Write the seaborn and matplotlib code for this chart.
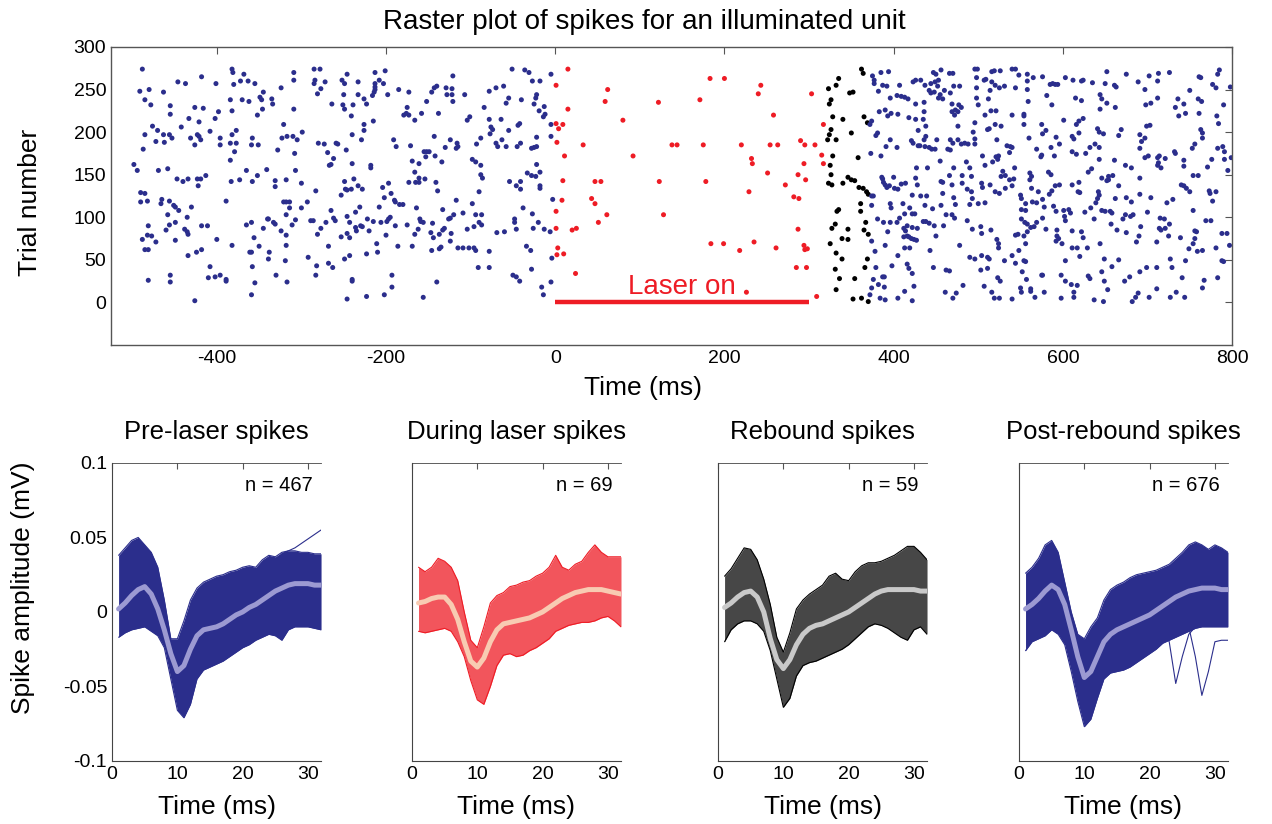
import numpy as np
import pandas as pd
import seaborn as sns
import matplotlib
matplotlib.use("Agg")
import matplotlib.pyplot as plt

# ---- raster data: (time ms, trial) ----
pre_spikes = [
    (-488,274),(-491,248),(-480,250),(-463,247),(-485,238),(-478,232),(-455,231),(-455,221),(-446,259),(-437,257),
    (-418,265),(-426,229),(-416,228),(-433,216),(-421,212),(-442,206),(-476,207),(-470,202),(-485,197),(-487,180),
    (-472,189),(-463,197),(-462,188),(-456,197),(-453,193),(-431,193),(-423,197),(-421,195),(-419,191),(-426,185),
    (-408,201),(-402,216),(-398,224),(-401,257),(-382,274),(-381,270),(-380,256),(-372,260),(-368,268),(-363,260),
    (-355,257),(-384,238),(-382,225),(-370,238),(-362,236),(-345,247),(-349,241),(-347,238),(-335,239),(-334,233),
    (-346,227),(-352,220),(-324,252),(-309,270),(-309,261),(-309,227),(-285,274),(-278,274),(-284,261),(-285,257),
    (-272,259),(-277,251),(-281,245),(-264,233),(-321,209),(-377,202),(-382,197),(-396,193),(-396,185),(-384,187),
    (-377,187),(-379,177),(-384,167),(-358,193),(-359,185),(-351,185),(-328,179),(-323,193),(-317,195),(-310,195),
    (-305,191),(-299,200),(-308,175),(-280,187),(-273,186),(-269,176),(-259,187),(-262,169),(-267,161),(-265,162),
    (-498,162),(-494,155),(-469,155),(-458,157),(-447,145),(-440,142),(-434,145),(-423,145),(-419,145),(-422,137),
    (-413,149),(-383,142),(-373,144),(-365,155),(-358,142),(-352,149),(-341,156),(-331,143),(-331,136),(-318,144),
    (-307,155),(-300,140),(-283,131),(-490,129),(-485,128),(-490,118),(-482,119),(-465,121),(-466,116),(-456,119),
    (-451,114),(-449,112),(-445,108),(-430,112),(-458,103),(-449,94),(-435,100),(-460,85),(-456,91),(-438,86),
    (-435,83),(-434,80),(-481,90),(-488,74),(-482,79),(-477,78),(-485,62),(-481,62),(-472,71),(-449,73),
    (-418,90),(-411,90),(-400,74),(-434,55),(-424,59),(-418,62),(-389,119),(-382,67),(-365,91),(-359,94),
    (-356,76),(-350,66),(-361,59),(-359,59),(-358,42),(-340,98),(-339,98),(-333,94),(-331,92),(-345,87),
    (-338,59),(-339,51),(-324,84),(-318,79),(-321,118),(-318,118),(-314,118),(-314,111),(-318,103),(-311,91),
    (-307,97),(-300,111),(-293,118),(-289,96),(-286,96),(-281,80),(-277,87),(-271,94),(-265,108),(-262,99),
    (-260,96),(-292,53),(-282,43),(-268,66),(-268,46),(-263,41),(-318,67),(-319,49),(-317,24),(-330,32),
    (-355,23),(-359,9),(-426,2),(-408,42),(-410,29),(-402,30),(-396,32),(-389,27),(-389,25),(-455,32),
    (-455,24),(-481,26),(-283,32),
    (-246,268),(-252,261),(-249,257),(-233,259),(-213,270),(-208,261),(-213,257),(-213,253),(-213,250),(-214,247),
    (-216,243),(-201,272),(-203,257),(-198,244),(-250,244),(-233,244),(-226,239),(-223,233),(-251,232),(-249,227),
    (-239,232),(-241,219),(-226,209),(-226,202),(-215,213),(-240,197),(-229,191),(-247,179),(-257,186),(-240,163),
    (-218,161),(-218,158),(-191,191),(-188,183),(-185,250),(-173,247),(-175,229),(-179,220),(-176,222),(-173,220),
    (-166,214),(-158,222),(-152,236),(-146,247),(-143,252),(-140,254),(-138,222),(-143,195),(-129,252),(-122,251),
    (-122,244),(-128,244),(-121,236),(-121,266),(-107,244),(-171,184),(-155,177),(-152,177),(-149,177),(-153,171),
    (-142,172),(-130,182),(-124,191),(-116,187),(-115,183),(-117,181),(-134,165),(-169,166),(-161,163),(-166,153),
    (-161,146),(-173,141),(-165,141),(-161,141),(-154,145),(-141,141),(-139,131),(-104,214),(-101,218),(-84,229),
    (-78,248),(-70,252),(-61,254),(-55,240),(-58,234),(-78,215),(-64,215),(-76,206),(-74,203),(-77,198),
    (-88,193),(-93,186),(-70,187),(-68,183),(-63,191),(-58,183),(-55,202),(-45,183),(-44,208),(-42,210),
    (-41,187),(-51,274),(-36,273),(-31,270),(-27,260),(-18,260),(-22,244),(-23,240),(-40,238),(-25,233),
    (-19,225),(-13,230),(-12,221),(-14,218),(-5,268),(-5,209),(-5,195),(-22,194),(-28,181),(-25,182),
    (-22,183),(-98,168),(-94,165),(-88,161),(-88,150),(-86,146),(-90,130),(-98,116),(-109,105),(-94,103),
    (-87,103),(-90,94),(-87,91),(-96,89),(-104,86),(-54,142),(-46,137),(-41,142),(-41,133),(-33,152),
    (-28,149),(-23,148),(-22,162),(-18,153),(-18,137),(-18,134),(-38,111),(-27,104),(-48,98),(-48,94),
    (-46,86),(-26,87),(-20,94),(-13,86),(-6,83),(-69,82),(-60,83),(-34,66),(-29,61),(-4,52),
    (-28,39),(-50,32),(-46,30),(-42,25),(-5,24),(-16,18),(-14,9),(-78,60),(-78,41),(-91,41),
    (-115,64),(-109,64),(-102,64),(-96,64),(-94,61),(-124,72),(-135,65),(-137,63),(-146,61),(-131,87),
    (-133,85),(-123,81),(-137,80),(-144,76),(-147,82),(-162,86),(-166,80),(-175,91),(-189,90),(-186,66),
    (-169,66),(-164,111),(-160,98),(-159,95),(-156,94),(-145,93),(-133,109),(-124,99),(-120,103),(-117,120),
    (-126,98),(-195,100),(-197,98),(-199,95),(-206,94),(-215,95),(-222,98),(-231,112),(-236,106),(-246,101),
    (-243,94),(-236,88),(-235,84),(-230,90),(-228,89),(-220,84),(-246,81),(-243,76),(-253,77),(-211,69),
    (-210,59),(-223,57),(-243,55),(-249,51),(-200,79),(-208,112),(-190,120),(-189,118),(-184,115),(-180,115),
    (-194,128),(-202,123),(-197,140),(-204,135),(-253,126),(-248,133),(-246,132),(-241,133),(-249,142),(-238,145),
    (-233,137),(-228,133),(-240,27),(-240,25),(-193,32),(-193,18),(-202,9),(-223,7),(-246,4),(-156,6),
    (-140,24),(-3,121),
]

laser_spikes = [
    (15,274),(1,255),(62,250),(59,236),(15,227),(1,210),(4,204),(9,209),(2,188),(33,185),
    (11,172),(80,214),(92,172),(122,235),(138,185),(144,185),(171,238),(183,263),(200,263),(175,185),
    (9,143),(47,142),(54,142),(123,142),(178,142),(8,120),(1,107),(43,122),(47,116),(61,103),
    (51,94),(128,103),(1,87),(20,85),(25,87),(3,64),(2,56),(10,57),(24,34),(184,69),
    (199,69),(218,61),(235,71),(261,64),(229,130),(232,169),(233,163),(251,152),(272,138),(220,185),
    (254,185),(263,185),(243,255),(240,245),(258,220),(303,245),(290,190),(295,185),(307,185),(294,163),
    (287,150),(296,144),(282,124),(288,122),(287,86),(294,67),(295,62),(298,63),(285,41),(297,41),
    (226,12),(309,7),(317,209),(315,173),(317,163),
]

rebound_spikes = [
    (335,263),(332,255),(323,251),(348,246),(352,247),(326,238),(324,233),(362,274),(364,269),(328,218),
    (340,215),(350,199),(326,203),(324,197),(322,191),(332,191),(365,218),(369,211),(328,172),(358,170),
    (325,161),(326,150),(323,140),(327,138),(340,140),(346,147),(350,144),(354,143),(359,135),(364,134),
    (368,130),(370,127),(361,116),(361,107),(335,109),(333,107),(331,92),(327,87),(346,86),(339,75),
    (346,74),(367,94),(365,85),(370,80),(325,69),(332,58),(339,51),(369,51),(331,39),(366,41),
    (336,28),(354,28),(332,15),(352,4),(362,5),(370,1),
]

post_spikes = [
    (385,270),(394,271),(375,266),(377,261),(447,270),(450,268),(456,273),(466,269),(470,269),(496,274),
    (499,274),(516,271),(519,272),(526,272),(540,274),(498,264),(507,261),(509,262),(387,255),(392,254),
    (377,257),(407,255),(423,259),(426,261),(432,261),(437,255),(444,257),(449,259),(453,261),(452,254),
    (442,249),(471,254),(478,254),(460,249),(455,244),(453,240),(458,239),(444,246),(448,247),(467,246),
    (516,259),(520,255),(525,252),(531,254),(514,249),(498,252),(404,243),(409,242),(413,241),(417,239),
    (396,240),(382,248),(426,233),(436,235),(498,240),(500,232),(512,239),(383,224),(390,226),(393,219),
    (397,222),(405,221),(418,217),(426,215),(435,215),(438,207),(429,202),(436,224),(469,233),(477,232),
    (480,229),(476,224),(473,226),(469,224),(472,220),(476,207),(515,225),(521,225),(508,220),(496,211),
    (511,203),(513,204),(520,209),(527,207),(540,220),(494,200),(496,192),(374,213),(372,209),(381,199),
    (379,196),(396,191),(391,183),(404,182),(373,175),(385,172),(421,190),(423,187),(429,184),(431,184),
    (437,183),(442,182),(445,180),(449,180),(436,191),(438,195),(451,191),(464,180),(467,179),(467,191),
    (476,191),(480,186),(470,187),(484,187),(488,186),(496,186),(522,191),(534,184),(538,183),(537,176),
    (505,172),(517,165),(521,171),(524,172),(523,168),(508,161),(529,154),(532,149),(537,144),(527,148),
    (427,158),(440,158),(455,166),(471,158),(486,165),(490,158),(466,149),(481,149),(492,148),(456,142),
    (458,141),(469,138),(481,140),(487,133),(492,130),(504,140),(514,138),(505,135),(520,130),(525,128),
    (532,134),(540,137),(386,147),(387,145),(388,141),(390,138),(392,135),(395,137),(400,147),(401,134),
    (409,139),(414,140),(426,146),(428,138),(405,133),(422,126),(432,125),(439,125),(374,125),(376,125),
    (374,114),(396,116),(397,111),(411,116),(419,111),(437,114),(446,110),(456,114),(458,128),(471,123),
    (473,115),(490,115),(493,122),(500,116),(508,117),(462,103),(469,103),(472,99),(487,96),(493,86),
    (503,89),(504,81),(515,85),(459,90),(448,90),(435,95),(438,95),(442,93),(422,104),(425,104),
    (413,104),(407,99),(404,94),(381,98),(388,94),(396,94),(416,90),(422,88),(428,87),(393,83),
    (412,87),(414,84),(416,78),(418,77),(421,75),(424,74),(427,73),(412,77),(374,72),(390,67),
    (405,55),(413,64),(419,64),(443,61),(450,78),(478,67),(490,53),(496,51),(504,55),(513,51),
    (511,53),(522,74),(524,69),(524,64),(531,49),(540,55),(378,60),(398,43),(416,45),(418,40),
    (422,34),(447,41),(462,38),(466,37),(482,20),(503,38),(511,40),(523,29),(526,25),(376,27),
    (374,17),(387,30),(389,30),(382,21),(389,18),(384,5),(390,3),(372,9),(405,5),(413,13),
    (424,19),(422,2),(461,12),(470,5),(474,11),(507,19),(516,12),(519,5),(525,5),(540,4),
    (379,41),
    (544,274),(548,267),(558,268),(558,260),(565,264),(576,265),(544,252),(558,250),(559,236),(585,256),
    (588,257),(591,256),(594,256),(581,243),(587,232),(603,264),(612,261),(622,260),(624,261),(635,258),
    (615,240),(622,237),(644,244),(646,239),(652,234),(644,227),(650,257),(652,271),(661,255),(663,253),
    (662,229),(675,268),(689,259),(697,250),(702,266),(713,269),(712,260),(726,270),(698,232),(704,234),
    (712,240),(733,229),(736,239),(743,233),(750,249),(737,219),(745,222),(761,265),(763,264),(760,239),
    (764,236),(761,222),(777,256),(781,252),(783,268),(785,273),(790,232),(782,219),(784,210),(798,253),
    (554,221),(554,219),(554,209),(560,193),(540,182),(575,209),(576,198),(580,202),(569,180),(574,171),
    (575,173),(586,182),(590,172),(592,194),(596,186),(601,214),(611,195),(613,192),(616,209),(619,213),
    (624,216),(619,199),(611,177),(616,174),(627,175),(632,182),(638,186),(643,182),(641,204),(643,200),
    (648,198),(643,168),(630,153),(634,157),(661,167),(669,203),(666,196),(674,161),(681,158),(691,197),
    (693,189),(697,193),(691,181),(699,207),(703,208),(701,172),(697,170),(712,170),(713,164),(712,161),
    (716,158),(714,172),(721,169),(732,177),(733,175),(743,167),(743,160),(753,181),(756,186),(763,203),
    (765,199),(765,193),(771,159),(776,168),(783,181),(789,183),(791,177),(791,168),(799,170),(795,155),
    (543,158),(542,145),(561,152),(563,148),(561,144),(583,153),(586,150),(550,126),(551,122),(563,134),
    (571,130),(556,116),(556,108),(564,118),(569,117),(576,121),(578,112),(584,127),(587,131),(591,137),
    (596,138),(589,113),(592,107),(611,138),(619,141),(620,129),(618,130),(601,108),(607,109),(609,105),
    (602,101),(603,96),(626,106),(633,111),(639,117),(641,122),(642,130),(643,126),(646,108),(650,107),
    (656,107),(658,105),(654,144),(654,148),(652,143),(659,149),(646,146),(662,122),(666,137),(675,123),
    (681,118),(691,127),(691,146),(704,123),(674,103),(680,101),(683,103),(671,98),(657,92),(664,85),
    (675,82),(687,71),(690,78),(692,89),(700,106),(715,99),(720,98),(726,92),(723,117),(730,121),
    (740,138),(743,137),(746,134),(750,130),(754,149),(760,149),(754,108),(773,131),(774,128),(777,119),
    (781,130),(769,96),(775,96),(714,87),(716,85),(721,87),(711,71),(725,78),(739,76),(749,63),
    (754,69),(756,75),(758,83),(756,84),(759,60),(765,61),(781,64),(788,81),(794,81),(797,67),
    (788,49),(790,48),(783,29),(767,26),(765,17),(727,51),(729,41),(741,29),(745,49),(734,12),
    (744,6),(727,6),(711,16),(702,6),(689,11),(686,6),(682,1),(711,41),(699,41),(691,36),
    (673,25),(679,30),(666,50),(658,42),(649,51),(646,36),(649,25),(653,15),(648,1),(637,3),
    (630,31),(632,28),(620,54),(603,49),(610,21),(617,20),(613,12),(613,6),(598,32),(603,25),
    (598,5),(578,12),(567,6),(562,16),(562,13),(550,17),(551,12),(557,27),(552,36),(554,49),
    (556,48),(548,61),(544,46),(575,32),(576,32),(556,69),(644,69),(629,64),(617,64),(624,76),
    (611,64),(611,84),(622,83),(593,85),(593,78),(595,75),(592,72),(599,69),(580,86),(576,99),
    (569,94),(566,89),(562,88),(558,83),(554,78),(547,80),(544,79),(551,98),(555,94),(558,92),
    (551,109),(637,98),
]

laser_window = [0, 300]

# ---- waveform data (mV), samples at 1..32 ms ----
wave_t = list(range(1, 33))

pre_mean = [0.002,0.006,0.011,0.015,0.017,0.012,0.002,-0.012,-0.028,-0.040,-0.036,-0.025,-0.016,-0.012,-0.011,-0.010,
            -0.008,-0.005,-0.002,0.000,0.003,0.005,0.008,0.011,0.014,0.016,0.018,0.019,0.019,0.019,0.018,0.018]
pre_upper = [0.038,0.043,0.048,0.050,0.045,0.040,0.030,0.008,-0.018,-0.018,-0.006,0.008,0.016,0.020,0.022,0.024,
             0.025,0.027,0.028,0.030,0.031,0.030,0.035,0.038,0.037,0.040,0.041,0.041,0.040,0.040,0.039,0.039]
pre_lower = [-0.017,-0.014,-0.012,-0.011,-0.010,-0.013,-0.016,-0.024,-0.045,-0.066,-0.071,-0.062,-0.045,-0.039,-0.037,-0.035,
             -0.033,-0.030,-0.027,-0.024,-0.022,-0.019,-0.017,-0.015,-0.016,-0.019,-0.012,-0.010,-0.010,-0.010,-0.011,-0.012]

laser_mean = [0.006,0.007,0.009,0.010,0.010,0.005,-0.005,-0.020,-0.033,-0.037,-0.031,-0.020,-0.012,-0.008,-0.007,-0.006,
              -0.005,-0.004,-0.002,0.000,0.003,0.006,0.009,0.011,0.013,0.014,0.015,0.015,0.015,0.014,0.013,0.012]
laser_upper = [0.030,0.027,0.030,0.036,0.034,0.030,0.021,0.000,-0.019,-0.024,-0.010,0.006,0.011,0.013,0.017,0.018,
               0.020,0.021,0.024,0.026,0.030,0.038,0.030,0.028,0.032,0.034,0.040,0.045,0.040,0.037,0.037,0.037]
laser_lower = [-0.013,-0.014,-0.013,-0.012,-0.011,-0.013,-0.020,-0.030,-0.046,-0.059,-0.062,-0.050,-0.036,-0.029,-0.028,-0.030,
               -0.029,-0.026,-0.024,-0.021,-0.018,-0.013,-0.011,-0.009,-0.008,-0.007,-0.007,-0.006,-0.004,-0.003,-0.006,-0.010]

rebound_mean = [0.003,0.006,0.010,0.013,0.014,0.010,0.000,-0.018,-0.032,-0.038,-0.032,-0.022,-0.015,-0.011,-0.009,-0.008,
                -0.006,-0.004,-0.002,0.000,0.003,0.006,0.009,0.012,0.014,0.015,0.015,0.015,0.015,0.015,0.014,0.014]
rebound_upper = [0.024,0.029,0.036,0.043,0.042,0.035,0.022,0.005,-0.017,-0.027,-0.014,0.002,0.008,0.012,0.015,0.018,
                 0.024,0.026,0.022,0.021,0.027,0.031,0.033,0.033,0.034,0.036,0.038,0.041,0.044,0.044,0.040,0.035]
rebound_lower = [-0.020,-0.012,-0.008,-0.006,-0.006,-0.008,-0.013,-0.026,-0.045,-0.064,-0.058,-0.043,-0.036,-0.034,-0.033,-0.031,
                 -0.029,-0.027,-0.025,-0.022,-0.018,-0.014,-0.010,-0.008,-0.009,-0.011,-0.014,-0.017,-0.019,-0.012,-0.010,-0.015]

post_mean = [0.002,0.005,0.009,0.014,0.018,0.015,0.005,-0.012,-0.030,-0.044,-0.040,-0.030,-0.020,-0.015,-0.012,-0.010,
             -0.008,-0.006,-0.004,-0.002,0.001,0.004,0.007,0.010,0.012,0.014,0.015,0.016,0.016,0.016,0.015,0.015]
post_upper = [0.026,0.030,0.036,0.045,0.048,0.040,0.020,0.000,-0.015,-0.018,-0.010,-0.004,0.008,0.015,0.018,0.020,
              0.023,0.025,0.026,0.027,0.028,0.030,0.032,0.036,0.040,0.045,0.047,0.045,0.042,0.045,0.043,0.040]
post_lower = [-0.026,-0.020,-0.018,-0.016,-0.012,-0.015,-0.022,-0.040,-0.060,-0.077,-0.072,-0.058,-0.045,-0.041,-0.040,-0.039,
              -0.037,-0.034,-0.031,-0.028,-0.025,-0.021,-0.019,-0.017,-0.015,-0.013,-0.011,-0.010,-0.010,-0.010,-0.010,-0.010]

# single stray traces that stick out of the bundles
pre_stray_t = [26, 27, 28, 29, 30, 31, 32]
pre_stray = [0.039, 0.041, 0.043, 0.046, 0.049, 0.052, 0.055]
post_stray_a_t = [21, 22, 23, 24, 25, 26, 27]
post_stray_a = [-0.008, -0.012, -0.020, -0.048, -0.030, -0.015, -0.010]
post_stray_b_t = [25, 26, 27, 28, 29, 30, 31, 32]
post_stray_b = [-0.006, -0.010, -0.030, -0.056, -0.040, -0.020, -0.019, -0.019]

panel_titles = ["Pre-laser spikes", "During laser spikes", "Rebound spikes", "Post-rebound spikes"]
panel_counts = [467, 69, 59, 676]

# ---- style ----
sns.set_style("white")
plt.rcParams["font.family"] = ["Liberation Sans", "DejaVu Sans"]
plt.rcParams["axes.unicode_minus"] = False
for key in ["text.color", "axes.labelcolor", "xtick.color", "ytick.color"]:
    plt.rcParams[key] = "black"

navy = "#2b2e8c"
red = "#ee1c25"
period_colors = {"pre": navy, "laser": red, "rebound": "black", "post": navy}

fig = plt.figure(figsize=(12.72, 8.24), dpi=100)

# ---- raster ----
ax = fig.add_axes([0.0873, 0.5813, 0.8813, 0.3617])
rows = []
for name, spikes in [("pre", pre_spikes), ("laser", laser_spikes),
                     ("rebound", rebound_spikes), ("post", post_spikes)]:
    for t, tr in spikes:
        rows.append({"time": t, "trial": tr, "period": name})
raster_df = pd.DataFrame(rows)

sns.scatterplot(data=raster_df, x="time", y="trial", hue="period", palette=period_colors,
                s=13, linewidth=0, legend=False, ax=ax)
ax.plot(laser_window, [0, 0], color=red, lw=3.2, solid_capstyle="butt")
ax.text(np.mean(laser_window), 18, "Laser on", color=red, fontsize=20, ha="center", va="center")

ax.set_xlim(-525, 800)
ax.set_ylim(-50, 300)
ax.set_xticks(range(-400, 801, 200))
ax.set_yticks(range(0, 301, 50))
ax.tick_params(direction="in", top=True, right=True, labelsize=14, length=5, color="#555555")
for sp in ax.spines.values():
    sp.set_color("#555555")
    sp.set_linewidth(1.0)
ax.set_xlabel("Time (ms)", fontsize=19)
ax.set_ylabel("Trial number", fontsize=19)
ax.xaxis.set_label_coords(0.4746, -0.105)
ax.yaxis.set_label_coords(-0.062, 0.48)
fig.text(0.5063, 0.973, "Raster plot of spikes for an illuminated unit", fontsize=20,
         ha="center", va="center")

# ---- waveform panels ----
panel_left = [0.0881, 0.3239, 0.5645, 0.8011]
panel_data = [
    (pre_mean, pre_upper, pre_lower, navy, 1.0, "#9c9ad2"),
    (laser_mean, laser_upper, laser_lower, red, 0.75, "#f8cbb2"),
    (rebound_mean, rebound_upper, rebound_lower, "black", 0.72, "#c9c9c9"),
    (post_mean, post_upper, post_lower, navy, 1.0, "#9c9ad2"),
]

for i, (mean, upper, lower, col, band_alpha, mean_col) in enumerate(panel_data):
    wax = fig.add_axes([panel_left[i], 0.0765, 0.1643, 0.3617])
    wax.fill_between(wave_t, lower, upper, color=col, alpha=band_alpha, linewidth=0)
    sns.lineplot(x=wave_t, y=upper, color=col, lw=0.8, ax=wax)
    sns.lineplot(x=wave_t, y=lower, color=col, lw=0.8, ax=wax)
    if i == 0:
        sns.lineplot(x=pre_stray_t, y=pre_stray, color=col, lw=0.8, ax=wax)
    if i == 3:
        sns.lineplot(x=post_stray_a_t, y=post_stray_a, color=col, lw=0.8, ax=wax)
        sns.lineplot(x=post_stray_b_t, y=post_stray_b, color=col, lw=0.8, ax=wax)
    sns.lineplot(x=wave_t, y=mean, color=mean_col, lw=3.6, ax=wax)

    wax.set_xlim(0, 32)
    wax.set_ylim(-0.1, 0.1)
    wax.set_xticks([0, 10, 20, 30])
    wax.set_yticks([-0.1, -0.05, 0, 0.05, 0.1])
    if i == 0:
        wax.set_yticklabels(["-0.1", "-0.05", "0", "0.05", "0.1"])
        wax.set_ylabel("Spike amplitude (mV)", fontsize=19)
        wax.yaxis.set_label_coords(-0.37, 0.58)
    else:
        wax.set_yticklabels([])
    wax.tick_params(direction="in", top=True, labelsize=14, length=4, color="#555555")
    wax.spines["right"].set_visible(False)
    for sp in ["left", "bottom", "top"]:
        wax.spines[sp].set_color("#444444")
    wax.spines["top"].set_linewidth(0.6)
    wax.set_xlabel("Time (ms)", fontsize=19)
    wax.xaxis.set_label_coords(0.5, -0.115)
    wax.text(0.5, 1.104, panel_titles[i], fontsize=18.5, ha="center", va="center",
             transform=wax.transAxes)
    wax.text(0.96, 0.925, f"n = {panel_counts[i]}", fontsize=14.5, ha="right", va="center",
             transform=wax.transAxes)

fig.savefig("out.png", dpi=100)
